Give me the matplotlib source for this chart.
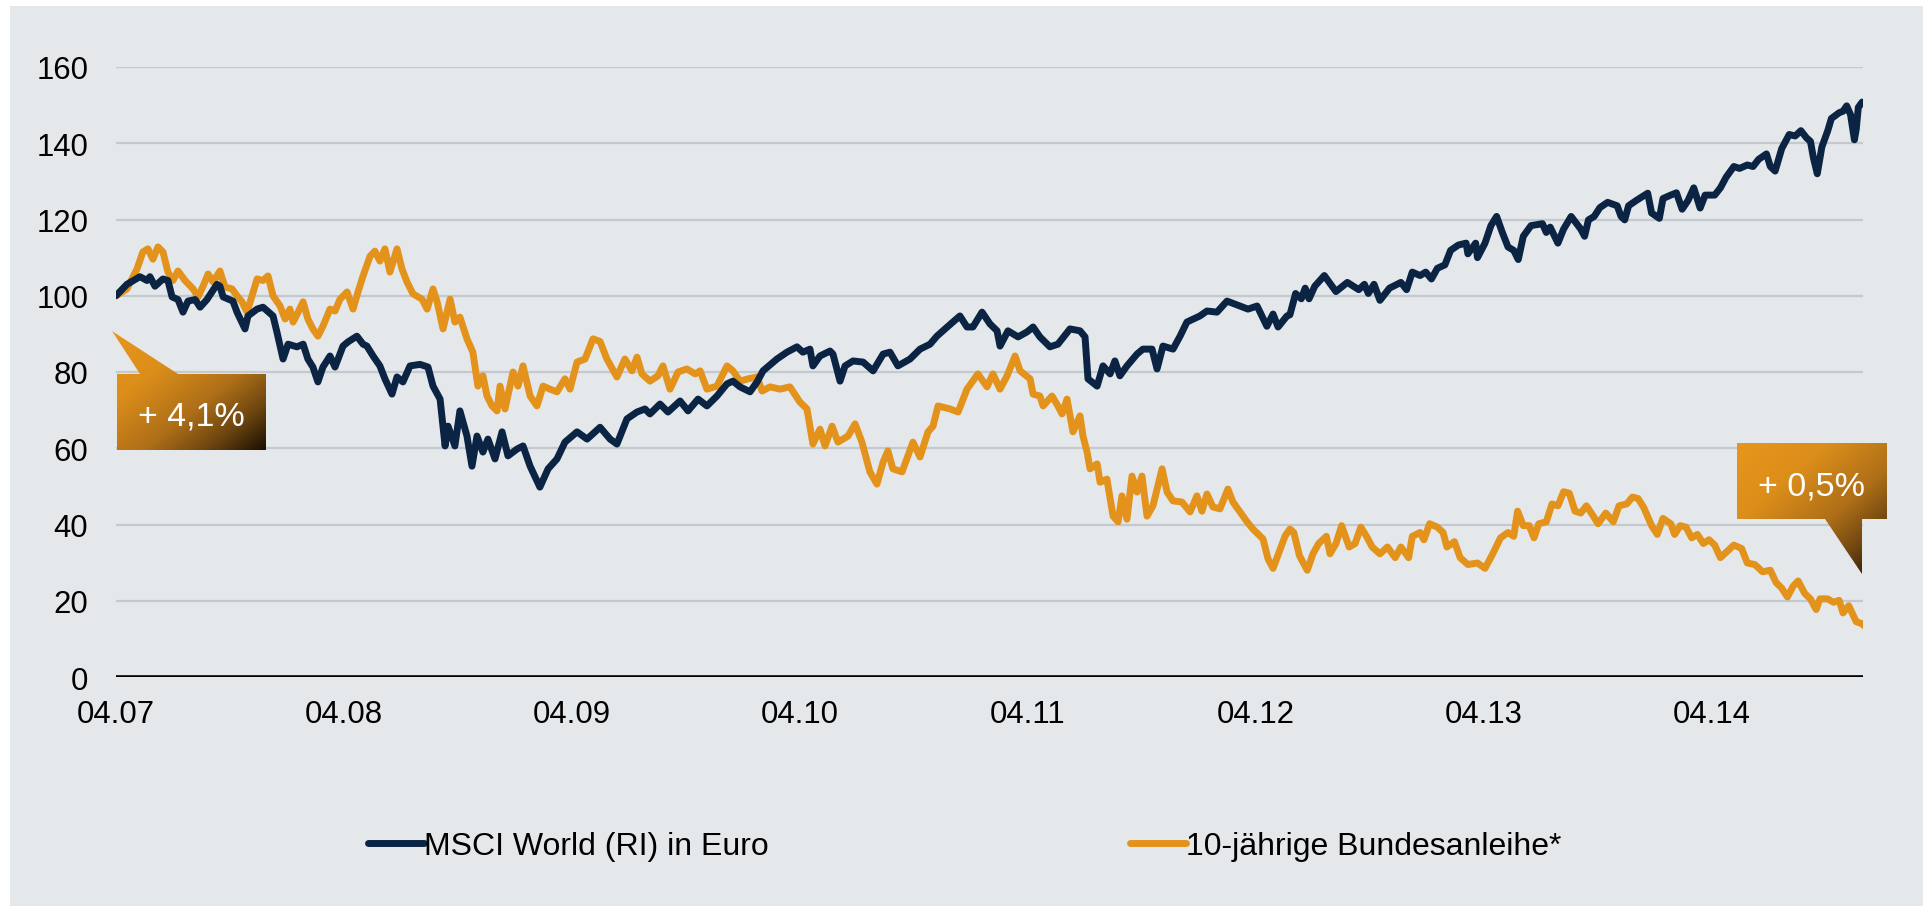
import matplotlib
matplotlib.use("Agg")
import matplotlib.pyplot as plt
import numpy as np
from matplotlib.patches import Polygon, Rectangle
from matplotlib.colors import LinearSegmentedColormap

plt.rcParams['font.family'] = ['Liberation Sans', 'DejaVu Sans']

# ---------------- data (x = years since 04.07) ----------------
msci_t = [0.000, 0.048, 0.105, 0.136, 0.149, 0.171, 0.206, 0.228, 0.246, 0.272,
          0.294, 0.316, 0.347, 0.369, 0.399, 0.443, 0.456, 0.470, 0.513, 0.531,
          0.566, 0.579, 0.619, 0.645, 0.689, 0.706, 0.733, 0.755, 0.794, 0.821,
          0.842, 0.864, 0.886, 0.908, 0.939, 0.961, 0.996, 1.018, 1.057, 1.084,
          1.101, 1.128, 1.158, 1.180, 1.211, 1.233, 1.259, 1.290, 1.334, 1.369,
          1.391, 1.422, 1.444, 1.457, 1.487, 1.509, 1.540, 1.562, 1.584, 1.610,
          1.632, 1.663, 1.694, 1.720, 1.760, 1.786, 1.817, 1.860, 1.896, 1.935,
          1.970, 2.023, 2.067, 2.124, 2.168, 2.198, 2.242, 2.286, 2.321, 2.343,
          2.387, 2.422, 2.475, 2.510, 2.554, 2.593, 2.637, 2.681, 2.707, 2.738,
          2.782, 2.813, 2.839, 2.900, 2.944, 2.988, 3.014, 3.045, 3.058, 3.089,
          3.133, 3.146, 3.177, 3.199, 3.234, 3.278, 3.322, 3.366, 3.396, 3.431,
          3.484, 3.528, 3.572, 3.602, 3.651, 3.703, 3.734, 3.760, 3.800, 3.835,
          3.866, 3.879, 3.914, 3.958, 3.997, 4.024, 4.054, 4.098, 4.133, 4.186,
          4.230, 4.252, 4.265, 4.305, 4.331, 4.362, 4.383, 4.405, 4.436, 4.480,
          4.506, 4.546, 4.568, 4.594, 4.638, 4.669, 4.699, 4.756, 4.787, 4.831,
          4.875, 4.932, 4.967, 5.007, 5.050, 5.077, 5.099, 5.138, 5.151, 5.176,
          5.201, 5.218, 5.235, 5.260, 5.302, 5.353, 5.403, 5.453, 5.478, 5.495,
          5.520, 5.546, 5.588, 5.638, 5.663, 5.688, 5.722, 5.747, 5.772, 5.798,
          5.831, 5.856, 5.890, 5.924, 5.932, 5.966, 5.974, 6.007, 6.033, 6.058,
          6.083, 6.108, 6.133, 6.153, 6.175, 6.209, 6.259, 6.276, 6.293, 6.327,
          6.352, 6.385, 6.427, 6.444, 6.461, 6.486, 6.511, 6.545, 6.587, 6.604,
          6.620, 6.637, 6.671, 6.721, 6.738, 6.772, 6.788, 6.822, 6.847, 6.872,
          6.898, 6.923, 6.951, 6.973, 7.015, 7.040, 7.065, 7.099, 7.124, 7.158,
          7.183, 7.208, 7.242, 7.259, 7.280, 7.309, 7.342, 7.368, 7.393, 7.418,
          7.435, 7.448, 7.465, 7.485, 7.511, 7.527, 7.561, 7.578, 7.594, 7.611,
          7.628, 7.636, 7.645, 7.662, 7.678]
msci_v = [100.0, 103.0, 105.0, 104.0, 105.0, 102.5, 104.4, 104.0, 99.7, 99.0,
          95.7, 98.6, 99.0, 97.0, 99.0, 103.0, 102.5, 99.7, 98.6, 95.7,
          91.3, 94.7, 96.5, 97.0, 94.7, 90.5, 83.4, 87.3, 86.6, 87.3,
          83.4, 81.3, 77.4, 81.3, 84.2, 81.3, 86.8, 87.9, 89.4, 87.3,
          86.8, 84.2, 81.6, 78.2, 74.2, 78.7, 77.4, 81.6, 82.0, 81.3,
          76.3, 72.9, 60.6, 65.8, 60.6, 69.8, 63.2, 55.3, 63.2, 59.0,
          62.4, 57.2, 64.3, 58.0, 59.8, 60.6, 55.3, 49.8, 54.6, 57.2,
          61.6, 64.3, 62.4, 65.5, 62.4, 61.1, 67.7, 69.5, 70.3, 69.0,
          71.6, 69.5, 72.4, 69.8, 72.9, 71.1, 73.7, 76.9, 77.6, 76.1,
          74.8, 77.4, 80.3, 83.4, 85.2, 86.6, 85.2, 86.0, 81.6, 84.2,
          85.5, 84.7, 77.6, 81.6, 82.9, 82.6, 80.3, 84.7, 85.2, 81.6,
          83.4, 86.0, 87.3, 89.4, 92.0, 94.7, 91.8, 91.8, 95.7, 92.6,
          90.8, 86.8, 90.8, 89.2, 90.5, 91.8, 89.2, 86.6, 87.3, 91.3,
          90.8, 89.2, 78.2, 76.3, 81.6, 79.5, 82.9, 79.0, 81.6, 84.7,
          86.0, 86.0, 80.8, 86.8, 86.0, 89.4, 93.1, 94.7, 96.0, 95.7,
          98.6, 97.3, 96.5, 97.3, 92.0, 95.2, 91.8, 94.7, 95.0, 100.6,
          99.2, 102.0, 99.2, 102.5, 105.3, 101.1, 103.5, 101.6, 103.0, 100.6,
          103.0, 98.8, 102.0, 103.5, 101.6, 106.2, 105.3, 106.2, 104.4, 107.2,
          108.1, 111.9, 113.3, 113.8, 111.0, 113.8, 110.0, 113.8, 118.4, 120.8,
          116.6, 112.8, 111.9, 109.5, 115.6, 118.4, 118.9, 116.6, 118.0, 113.8,
          117.5, 120.8, 117.5, 115.6, 119.9, 120.8, 123.1, 124.5, 123.6, 120.8,
          119.9, 123.6, 125.0, 126.9, 121.7, 120.3, 125.5, 126.4, 127.0, 122.7,
          125.0, 128.3, 123.0, 126.4, 126.4, 128.3, 131.1, 133.9, 133.4, 134.3,
          133.9, 135.8, 137.2, 133.9, 132.7, 138.6, 142.3, 141.9, 143.3, 141.4,
          140.5, 136.2, 132.0, 139.0, 143.3, 146.5, 148.0, 148.4, 149.8, 147.5,
          140.9, 143.7, 149.4, 150.8, 150.3]

bund_t = [0.000, 0.048, 0.092, 0.118, 0.140, 0.162, 0.184, 0.206, 0.228, 0.250,
          0.272, 0.303, 0.338, 0.360, 0.382, 0.404, 0.426, 0.456, 0.478, 0.509,
          0.531, 0.553, 0.575, 0.597, 0.619, 0.645, 0.667, 0.689, 0.720, 0.742,
          0.763, 0.777, 0.799, 0.821, 0.842, 0.864, 0.886, 0.908, 0.939, 0.961,
          0.983, 1.014, 1.040, 1.062, 1.084, 1.115, 1.136, 1.158, 1.180, 1.202,
          1.233, 1.255, 1.277, 1.303, 1.343, 1.365, 1.391, 1.409, 1.435, 1.466,
          1.487, 1.509, 1.540, 1.566, 1.588, 1.610, 1.628, 1.650, 1.672, 1.685,
          1.707, 1.742, 1.764, 1.786, 1.817, 1.847, 1.874, 1.904, 1.935, 1.970,
          1.992, 2.023, 2.058, 2.093, 2.124, 2.154, 2.198, 2.233, 2.264, 2.286,
          2.308, 2.343, 2.378, 2.400, 2.431, 2.466, 2.505, 2.541, 2.563, 2.593,
          2.637, 2.681, 2.707, 2.738, 2.773, 2.813, 2.835, 2.870, 2.914, 2.957,
          3.001, 3.032, 3.058, 3.089, 3.111, 3.142, 3.168, 3.212, 3.243, 3.273,
          3.308, 3.339, 3.366, 3.387, 3.409, 3.449, 3.497, 3.528, 3.563, 3.585,
          3.607, 3.660, 3.695, 3.734, 3.782, 3.822, 3.848, 3.879, 3.910, 3.945,
          3.967, 4.011, 4.024, 4.054, 4.068, 4.107, 4.133, 4.151, 4.173, 4.199,
          4.230, 4.243, 4.261, 4.274, 4.305, 4.318, 4.348, 4.375, 4.397, 4.414,
          4.436, 4.458, 4.480, 4.502, 4.524, 4.550, 4.590, 4.612, 4.638, 4.677,
          4.713, 4.743, 4.765, 4.787, 4.813, 4.844, 4.879, 4.901, 4.932, 4.963,
          4.989, 5.033, 5.055, 5.077, 5.099, 5.130, 5.151, 5.168, 5.193, 5.227,
          5.252, 5.277, 5.311, 5.327, 5.353, 5.378, 5.411, 5.437, 5.462, 5.487,
          5.512, 5.546, 5.579, 5.613, 5.638, 5.672, 5.688, 5.722, 5.739, 5.764,
          5.798, 5.823, 5.840, 5.873, 5.898, 5.932, 5.974, 6.007, 6.041, 6.075,
          6.108, 6.133, 6.150, 6.175, 6.201, 6.222, 6.243, 6.276, 6.301, 6.327,
          6.352, 6.377, 6.402, 6.427, 6.452, 6.478, 6.503, 6.537, 6.570, 6.595,
          6.629, 6.654, 6.679, 6.704, 6.738, 6.763, 6.788, 6.822, 6.839, 6.864,
          6.889, 6.914, 6.939, 6.965, 6.990, 7.015, 7.040, 7.065, 7.099, 7.133,
          7.158, 7.191, 7.225, 7.259, 7.284, 7.309, 7.334, 7.359, 7.381, 7.410,
          7.435, 7.460, 7.477, 7.510, 7.536, 7.561, 7.578, 7.603, 7.636, 7.661,
          7.678]
bund_v = [100.0, 101.8, 107.0, 111.5, 112.3, 109.6, 112.8, 111.5, 106.2, 104.0,
          106.5, 104.0, 101.8, 99.7, 102.5, 105.7, 103.6, 106.5, 102.3, 101.8,
          100.0, 98.4, 95.7, 100.0, 104.4, 104.0, 105.2, 100.0, 97.3, 93.9,
          96.5, 93.1, 95.7, 98.4, 93.9, 91.3, 89.4, 92.0, 96.5, 96.0,
          99.1, 101.0, 96.5, 101.0, 105.2, 110.4, 111.7, 109.1, 112.3, 106.2,
          112.3, 107.0, 103.6, 100.5, 99.1, 96.5, 101.8, 98.4, 91.3, 99.1,
          93.1, 94.4, 88.7, 85.2, 76.3, 79.0, 73.7, 71.1, 69.8, 76.3,
          70.3, 80.0, 76.3, 81.6, 73.7, 71.1, 76.3, 75.5, 74.8, 78.2,
          75.5, 82.6, 83.4, 88.7, 88.0, 83.4, 78.7, 83.4, 80.3, 83.9,
          79.5, 77.6, 79.0, 81.6, 75.5, 80.0, 80.8, 79.5, 80.3, 75.5,
          76.3, 81.6, 80.3, 77.6, 78.2, 78.7, 75.0, 76.1, 75.5, 76.1,
          72.1, 70.3, 61.1, 65.0, 60.6, 65.8, 61.6, 63.2, 66.4, 61.6,
          53.8, 50.6, 56.4, 59.3, 54.6, 53.8, 61.6, 57.7, 64.3, 65.8,
          71.1, 70.3, 69.5, 75.5, 79.5, 76.1, 79.5, 75.5, 79.0, 84.2,
          80.3, 78.2, 74.2, 73.7, 71.1, 73.7, 71.1, 69.0, 72.9, 64.3,
          68.5, 63.2, 59.0, 54.6, 55.9, 51.1, 51.9, 42.2, 40.7, 47.5,
          41.4, 52.7, 48.5, 52.7, 42.2, 44.9, 54.6, 48.5, 46.2, 45.9,
          43.3, 47.5, 43.5, 48.0, 44.6, 44.1, 49.3, 45.9, 43.3, 40.7,
          38.8, 36.2, 31.0, 28.5, 32.0, 37.0, 38.8, 37.9, 31.8, 28.0,
          32.3, 35.0, 36.9, 32.3, 35.0, 39.7, 34.1, 35.0, 39.3, 36.9,
          34.1, 32.3, 34.1, 31.3, 34.1, 31.3, 36.9, 37.9, 36.0, 40.2,
          39.3, 37.9, 34.1, 35.5, 31.3, 29.5, 29.9, 28.5, 32.3, 36.5,
          37.9, 36.9, 43.5, 39.7, 39.7, 36.5, 40.2, 40.7, 45.4, 44.9,
          48.6, 48.2, 43.5, 43.0, 44.9, 42.6, 40.2, 43.0, 40.7, 44.9,
          45.4, 47.2, 46.8, 44.4, 39.7, 37.4, 41.6, 40.2, 37.4, 39.7,
          39.3, 36.5, 37.4, 35.0, 36.0, 34.6, 31.3, 32.7, 34.6, 33.7,
          29.9, 29.5, 27.6, 28.0, 24.8, 23.3, 21.0, 23.8, 25.2, 21.9,
          20.5, 17.7, 20.5, 20.5, 19.6, 20.1, 16.8, 18.7, 14.5, 14.0,
          13.1]

x_ticks = [0, 1, 2, 3, 4, 5, 6, 7]
x_labels = ["04.07", "04.08", "04.09", "04.10", "04.11", "04.12", "04.13", "04.14"]
y_ticks = [0, 20, 40, 60, 80, 100, 120, 140, 160]
series_names = ["MSCI World (RI) in Euro", "10-jährige Bundesanleihe*"]
callout_texts = ["+ 4,1%", "+ 0,5%"]

# ---------------- styling ----------------
W, H = 1933, 912
BG = "#E5E8EB"
GRID = "#C4C9CF"
NAVY = "#0B2444"
ORANGE = "#E3931C"

fig = plt.figure(figsize=(W / 100, H / 100), dpi=100)
fig.patch.set_facecolor("white")
fig.add_artist(Rectangle((10 / W, 5 / H), (1923 - 10) / W, (905 - 5) / H,
                         transform=fig.transFigure, facecolor=BG,
                         edgecolor="none", zorder=-5))

ax = fig.add_axes([116 / W, 1 - 678 / H, (1863 - 116) / W, (678 - 68) / H])
ax.set_facecolor(BG)
ax.set_xlim(0, (1863 - 116) / 227.9)
ax.set_ylim(0, 160)
for s in ax.spines.values():
    s.set_visible(False)
ax.set_yticks(y_ticks)
ax.set_xticks(x_ticks)
ax.set_xticklabels(x_labels)
ax.tick_params(axis="both", length=0, labelsize=22.4, colors="black")
ax.tick_params(axis="y", pad=20)
ax.tick_params(axis="x", pad=16)
ax.yaxis.grid(True, color=GRID, lw=1.6, zorder=0)
ax.xaxis.grid(False)
ax.set_axisbelow(True)
ax.axhline(0, color="black", lw=2.6, zorder=2)

l2, = ax.plot(bund_t, bund_v, color=ORANGE, lw=5, solid_joinstyle="round",
              solid_capstyle="round", zorder=3, label=series_names[1])
l1, = ax.plot(msci_t, msci_v, color=NAVY, lw=5, solid_joinstyle="round",
              solid_capstyle="round", zorder=4, label=series_names[0])

fig.legend(handles=[l1, l2], labels=series_names, loc="center",
           bbox_to_anchor=(964.5 / W, 1 - 847 / H), ncol=2, frameon=False,
           fontsize=23, handlelength=1.75, handletextpad=0.0,
           columnspacing=11.3, borderpad=0.0)

# ---------------- callouts (overlay in pixel coords) ----------------
ov = fig.add_axes([0, 0, 1, 1], zorder=10)
ov.set_xlim(0, W)
ov.set_ylim(H, 0)
ov.axis("off")

cmap = LinearSegmentedColormap.from_list(
    "callout", [(0.0, "#E8961C"), (0.3, "#DC8E1A"), (0.6, "#AE6F18"),
                (0.8, "#6E4610"), (1.0, "#1A0F02")])

def callout(pts, text, tx, ty):
    xs = [p[0] for p in pts]
    ys = [p[1] for p in pts]
    x0, x1, y0, y1 = min(xs), max(xs), min(ys), max(ys)
    nx, ny = 200, 200
    gx = np.linspace(0, 1, nx)[None, :]
    gy = np.linspace(0, 1, ny)[:, None]
    grad = (gx + gy) / 2.0
    im = ov.imshow(grad, extent=(x0, x1, y1, y0), cmap=cmap, vmin=0, vmax=1,
                   aspect="auto", interpolation="bilinear", origin="upper",
                   zorder=5)
    poly = Polygon(pts, closed=True, facecolor="none", edgecolor="none",
                   transform=ov.transData)
    ov.add_patch(poly)
    im.set_clip_path(poly)
    ov.text(tx, ty, text, color="white", fontsize=24.5, ha="center",
            va="baseline", zorder=6)

callout([(117, 375), (140, 375), (112, 332), (178, 375), (266, 375),
         (266, 451), (117, 451)], callout_texts[0], 191.5, 425.5)
callout([(1737, 444), (1887, 444), (1887, 520), (1862, 520), (1862, 575),
         (1825, 520), (1737, 520)], callout_texts[1], 1812, 496)
ov.set_xlim(0, W)
ov.set_ylim(H, 0)

fig.savefig("out.png", dpi=100, facecolor=fig.get_facecolor())
